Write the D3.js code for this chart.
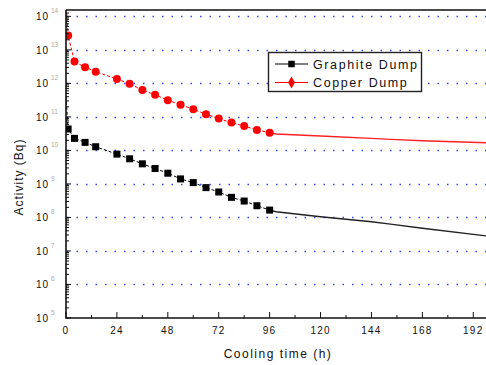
<!DOCTYPE html>
<html>
<head>
<meta charset="utf-8">
<script src="https://cdn.jsdelivr.net/npm/d3@7"></script>
<style>
  body { margin: 0; background: #fff; }
  svg { display: block; font-family: "Liberation Sans", Arial, sans-serif; }
</style>
</head>
<body>
<svg id="chart"></svg>
<script>
const hours = [0, 1, 4, 9, 14, 24, 30, 36, 42, 48, 54, 60, 66, 72, 78, 84, 90, 96];
const graphiteLog = [11.6, 10.64, 10.36, 10.24, 10.11, 9.89, 9.75, 9.60, 9.46, 9.32, 9.15, 9.04, 8.89, 8.76, 8.60, 8.49, 8.35, 8.22];
const copperLog = [14.4, 13.43, 12.65, 12.48, 12.35, 12.13, 11.99, 11.80, 11.66, 11.50, 11.36, 11.23, 11.08, 10.95, 10.83, 10.73, 10.61, 10.53];

// smooth continuation after 96 h (no markers)
const tailHours = [96, 99, 120, 144, 153, 168, 198];
const graphiteTailLog = [8.22, 8.17, 8.02, 7.87, 7.80, 7.68, 7.45];
const copperTailLog = [10.53, 10.49, 10.43, 10.36, 10.33, 10.29, 10.23];

const xTicks = [0, 24, 48, 72, 96, 120, 144, 168, 192];
const decades = [5, 6, 7, 8, 9, 10, 11, 12, 13, 14];

const width = 486, height = 365;
const margin = { left: 66, top: 10, right: 0, bottom: 47 };

const svg = d3.select('#chart')
    .attr('width', width)
    .attr('height', height);

const x = d3.scaleLinear()
    .domain([0, 198])
    .range([margin.left, width - margin.right]);

const y = d3.scaleLog()
    .domain([1e5, Math.pow(10, 14.19)])
    .range([height - margin.bottom, margin.top]);

const toPts = (xs, logs) => xs.map((h, i) => ({ h: h, v: Math.pow(10, logs[i]) }));

const graphite = toPts(hours, graphiteLog);
const copper = toPts(hours, copperLog);
const graphiteTail = toPts(tailHours, graphiteTailLog);
const copperTail = toPts(tailHours, copperTailLog);

svg.append('defs').append('clipPath').attr('id', 'plot')
    .append('rect')
    .attr('x', margin.left)
    .attr('y', margin.top)
    .attr('width', width - margin.left)
    .attr('height', height - margin.bottom - margin.top);

// dotted grid lines at each decade
svg.append('g')
    .selectAll('line')
    .data(decades.filter(d => d > 5))
    .join('line')
    .attr('x1', margin.left + 1)
    .attr('x2', width)
    .attr('y1', d => Math.round(y(Math.pow(10, d))) + 0.5)
    .attr('y2', d => Math.round(y(Math.pow(10, d))) + 0.5)
    .attr('stroke', '#3344ff')
    .attr('stroke-width', 1.5)
    .attr('stroke-dasharray', '1.5,8');

const line = d3.line()
    .x(d => x(d.h))
    .y(d => y(d.v));

const plot = svg.append('g').attr('clip-path', 'url(#plot)');

const series = [
    { pts: graphite, tail: graphiteTail, color: '#000', tailColor: '#222', shape: 'square' },
    { pts: copper, tail: copperTail, color: '#ff0000', tailColor: '#f22', shape: 'circle' }
];

series.forEach(s => {
    plot.append('path')
        .datum(s.pts)
        .attr('fill', 'none')
        .attr('stroke', s.color)
        .attr('stroke-width', 1)
        .attr('stroke-dasharray', '3,2')
        .attr('d', line);

    plot.append('path')
        .datum(s.tail)
        .attr('fill', 'none')
        .attr('stroke', s.tailColor)
        .attr('stroke-width', 1.4)
        .attr('d', line);

    const marks = s.pts.slice(1);
    if (s.shape === 'square') {
        plot.append('g')
            .selectAll('rect')
            .data(marks)
            .join('rect')
            .attr('x', d => x(d.h) - 3.5)
            .attr('y', d => y(d.v) - 3.5)
            .attr('width', 7)
            .attr('height', 7)
            .attr('fill', s.color);
    } else {
        plot.append('g')
            .selectAll('circle')
            .data(marks)
            .join('circle')
            .attr('cx', d => x(d.h))
            .attr('cy', d => y(d.v))
            .attr('r', 4)
            .attr('fill', s.color);
    }
});

// frame: left, bottom, top
const x0 = margin.left, yB = height - margin.bottom, yT = margin.top;
svg.append('path')
    .attr('d', `M${x0},${yT}H${width}M${x0},${yT}V${yB}H${width}`)
    .attr('fill', 'none')
    .attr('stroke', '#111')
    .attr('stroke-width', 1.6);

// y axis ticks (inside) and labels
const minorY = [];
decades.slice(0, -1).forEach(d => {
    for (let k = 2; k <= 9; k++) minorY.push(k * Math.pow(10, d));
});
minorY.push(Math.pow(10, 14.1));

const yAxis = svg.append('g');
yAxis.selectAll('line.major')
    .data(decades)
    .join('line')
    .attr('class', 'major')
    .attr('x1', x0).attr('x2', x0 + 5)
    .attr('y1', d => y(Math.pow(10, d)))
    .attr('y2', d => y(Math.pow(10, d)))
    .attr('stroke', '#111');
yAxis.selectAll('line.minor')
    .data(minorY.filter(v => v < y.domain()[1]))
    .join('line')
    .attr('class', 'minor')
    .attr('x1', x0).attr('x2', x0 + 3)
    .attr('y1', d => y(d))
    .attr('y2', d => y(d))
    .attr('stroke', '#111');

const yLab = yAxis.selectAll('g.lab')
    .data(decades)
    .join('g')
    .attr('class', 'lab')
    .attr('transform', d => `translate(0,${y(Math.pow(10, d))})`);
yLab.append('text')
    .attr('x', 49)
    .attr('y', 4)
    .attr('text-anchor', 'end')
    .attr('font-size', 10)
    .attr('letter-spacing', 1)
    .attr('fill', '#111')
    .text('10');
yLab.append('text')
    .attr('x', 51)
    .attr('y', -3)
    .attr('font-size', 6.5)
    .attr('fill', '#aaa')
    .text(d => d);

// x axis ticks (inside) and labels
const xAxis = svg.append('g');
xAxis.selectAll('line.major')
    .data(xTicks)
    .join('line')
    .attr('class', 'major')
    .attr('x1', d => x(d)).attr('x2', d => x(d))
    .attr('y1', yB).attr('y2', yB - 6)
    .attr('stroke', '#111');
xAxis.selectAll('line.minor')
    .data(xTicks.map(d => d + 12))
    .join('line')
    .attr('class', 'minor')
    .attr('x1', d => x(d)).attr('x2', d => x(d))
    .attr('y1', yB).attr('y2', yB - 3)
    .attr('stroke', '#111');
xAxis.selectAll('text')
    .data(xTicks)
    .join('text')
    .attr('x', d => x(d))
    .attr('y', yB + 16)
    .attr('text-anchor', 'middle')
    .attr('font-size', 10)
    .attr('letter-spacing', 1.2)
    .attr('fill', '#111')
    .text(d => d);

// axis titles
svg.append('text')
    .attr('x', 278)
    .attr('y', 358)
    .attr('text-anchor', 'middle')
    .attr('font-size', 12)
    .attr('letter-spacing', 1.5)
    .attr('fill', '#111')
    .text('Cooling time (h)');

svg.append('text')
    .attr('transform', 'translate(23,177) rotate(-90)')
    .attr('text-anchor', 'middle')
    .attr('font-size', 12)
    .attr('letter-spacing', 1)
    .attr('fill', '#111')
    .text('Activity (Bq)');

// legend
const legend = svg.append('g');
legend.append('rect')
    .attr('x', 268.5).attr('y', 52.5)
    .attr('width', 153).attr('height', 39)
    .attr('fill', '#fff')
    .attr('stroke', '#222')
    .attr('stroke-width', 1.4);

const legendItems = [
    { name: 'Graphite Dump', color: '#000', shape: 'square', y: 64 },
    { name: 'Copper Dump', color: '#ff0000', shape: 'diamond', y: 82.5 }
];
legendItems.forEach(it => {
    legend.append('line')
        .attr('x1', 275).attr('x2', 308)
        .attr('y1', it.y).attr('y2', it.y)
        .attr('stroke', it.color)
        .attr('stroke-width', 1.2);
    legend.append('path')
        .attr('transform', `translate(291.5,${it.y})`)
        .attr('d', d3.symbol().type(it.shape === 'square' ? d3.symbolSquare : d3.symbolDiamond).size(it.shape === 'square' ? 42 : 40)())
        .attr('fill', it.color);
    legend.append('text')
        .attr('x', 313)
        .attr('y', it.y + 4.5)
        .attr('font-size', 12.5)
        .attr('letter-spacing', 1.6)
        .attr('fill', '#111')
        .text(it.name);
});
</script>
</body>
</html>
